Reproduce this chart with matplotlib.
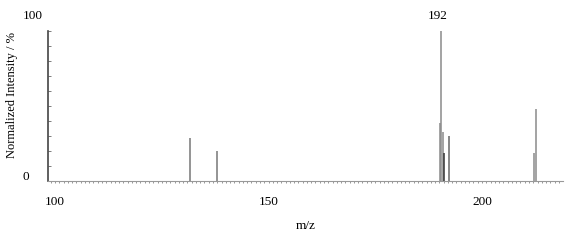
import matplotlib.pyplot as plt
from matplotlib.ticker import MultipleLocator

plt.rcParams["font.family"] = ["Liberation Serif", "DejaVu Serif"]

# peak positions (m/z) and normalized intensities (%)
mz = [131.6, 137.9, 190.1, 190.4, 190.9, 191.2, 192.3, 212.2, 212.6]
intensity = [28.5, 19.8, 39.0, 100.0, 32.4, 18.9, 30.2, 18.4, 48.0]
colors = ["#777777", "#777777", "#8a8a8a", "#8a8a8a", "#8a8a8a", "#333333",
          "#666666", "#8a8a8a", "#8a8a8a"]
base_peak = 190.4
base_label = "192"
xticks = [100, 150, 200]

fig = plt.figure(figsize=(5.65, 2.53), dpi=100)
ax = fig.add_axes([0.085, 0.2806, 0.9115, 0.5929])

ax.vlines(mz, 0, intensity, colors=colors, linewidth=1.1)

ax.set_xlim(98.36, 218.97)
ax.set_ylim(0, 100)

for side in ["top", "right"]:
    ax.spines[side].set_visible(False)
ax.spines["left"].set_color("#444444")
ax.spines["left"].set_linewidth(1.2)
ax.spines["bottom"].set_color("#999999")
ax.spines["bottom"].set_linewidth(0.8)

ax.set_xticks(xticks)
ax.set_xticklabels([str(t) for t in xticks])
ax.xaxis.set_minor_locator(MultipleLocator(1))
ax.tick_params(axis="x", which="both", direction="out", length=1.5,
               width=0.6, color="#888888", pad=8.5, labelsize=9.5)
ax.set_yticks([])
ax.yaxis.set_minor_locator(MultipleLocator(10))
ax.tick_params(axis="y", which="minor", direction="in", length=2,
               width=0.6, color="#666666")

ax.set_xlabel("m/z", fontsize=9.5, labelpad=9)

fig.text(0.0407, 0.937, "100", fontsize=9.5, ha="left", va="center")
fig.text(0.0407, 0.302, "0", fontsize=9.5, ha="left", va="center")
fig.text(0.021, 0.625, "Normalized Intensity / %", fontsize=9,
         rotation=90, ha="center", va="center")

ax.annotate(base_label, xy=(base_peak, 100), xytext=(-2.5, 11.5),
            textcoords="offset points", ha="center", va="center",
            fontsize=9.5, annotation_clip=False)

plt.savefig("out.png", dpi=100)
plt.close()
